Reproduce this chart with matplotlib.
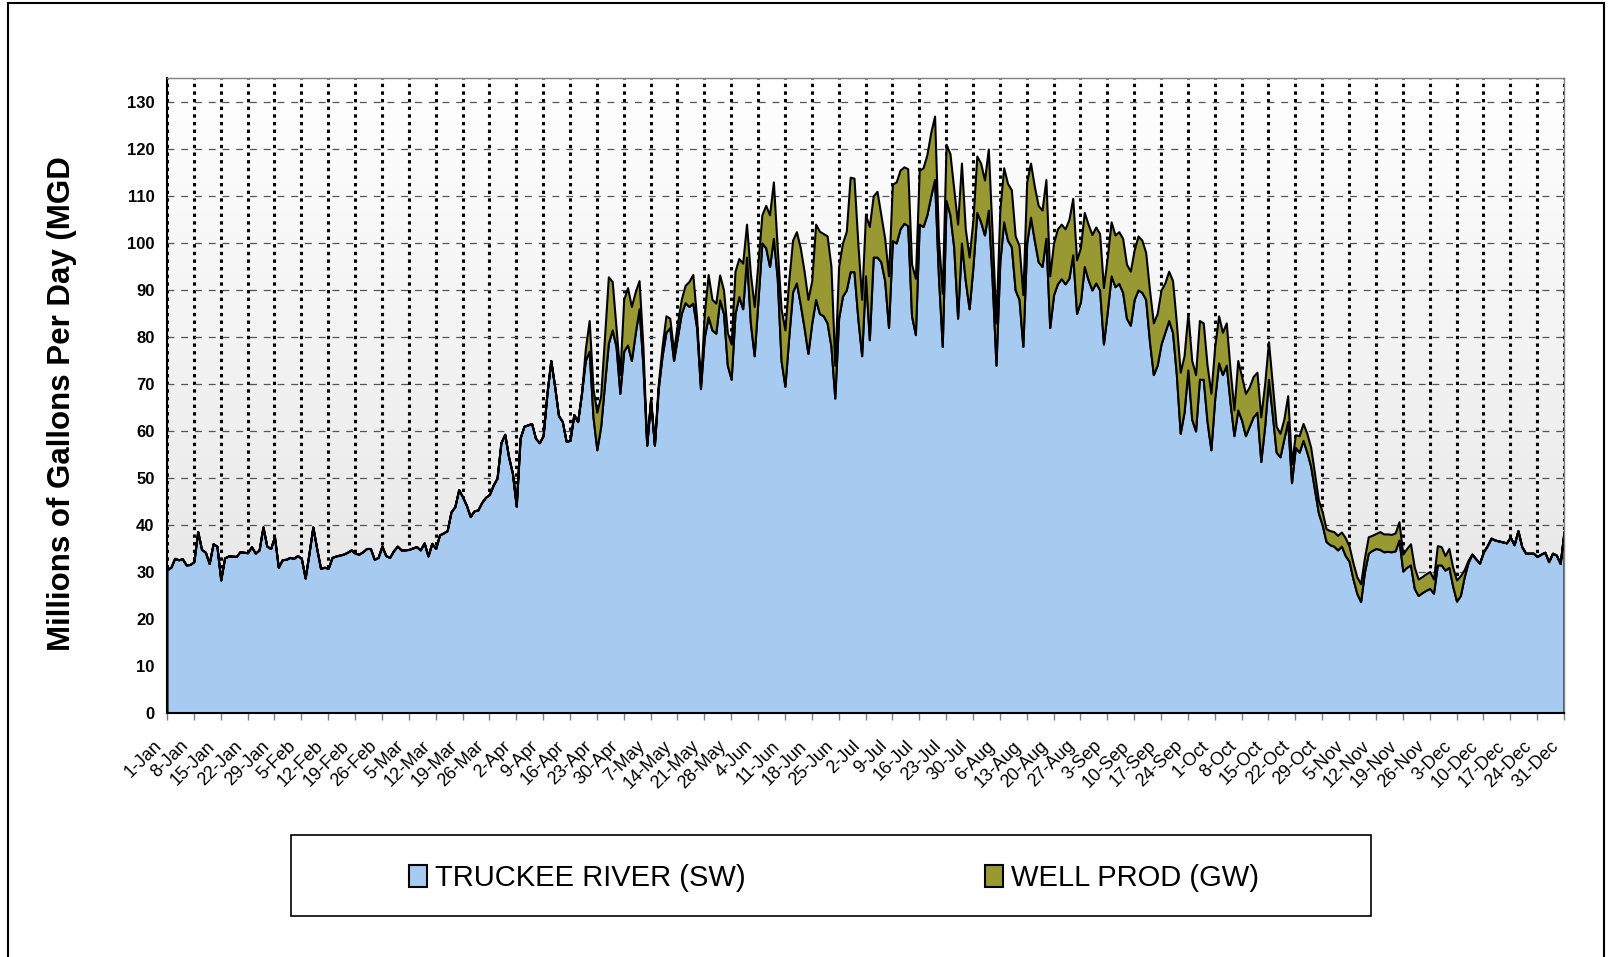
import matplotlib.pyplot as plt
import matplotlib.transforms as mtransforms
import numpy as np
from matplotlib.colors import LinearSegmentedColormap
from matplotlib.patches import Rectangle

plt.rcParams['font.family'] = ['Liberation Sans', 'DejaVu Sans']

# Daily Truckee River (surface water) production, MGD
sw_jan = [30.5, 31, 32.9, 32.6, 32.8, 31.5, 31.6, 32.2, 38.6, 34.8,
          34.2, 31.8, 36, 35.5, 28.3, 33, 33.4, 33.4, 33.3, 34.3,
          34.2, 34.1, 35.4, 34, 34.7, 39.6, 35.5, 35, 37.5, 31, 32.6]
sw_feb = [32.7, 33.1, 32.9, 33.5, 32.9, 28.7, 34, 39.6, 35, 30.8,
          31, 30.8, 33.1, 33.4, 33.6, 33.8, 34.2, 34.7, 34, 33.8,
          34.3, 35, 35, 32.7, 33.1, 35.5, 33.5, 33.1]
sw_mar = [34.5, 35.5, 34.7, 34.7, 34.8, 35.1, 35.4, 34.7, 36.2, 33.4,
          36.1, 35, 37.9, 38.3, 38.8, 42.8, 43.9, 47.5, 46, 44.2,
          41.8, 43, 43.2, 44.8, 45.9, 46.5, 48.5, 50, 57.5, 59.3, 54.5]
sw_apr = [51, 44, 58.5, 61, 61.3, 61.6, 58.5, 57.5, 59, 68,
          75, 69.5, 63.3, 62, 57.8, 58, 63.5, 62, 68, 75,
          77, 63, 56, 61, 70, 78.7, 81.5, 78, 68, 77]
sw_may = [78.3, 75, 80.8, 86, 74, 57, 66.5, 57, 69, 76,
          81, 82, 75, 80, 85, 87.3, 86.5, 87.2, 82, 69,
          80, 84.3, 81.5, 80.8, 87.9, 85, 74, 71, 85, 88.6, 86]
sw_jun = [97, 83, 76, 88, 100, 99, 95, 101, 92.5, 75,
          69.5, 80, 89.6, 91.5, 87, 82, 76.5, 83, 88, 85,
          84.5, 83, 78, 67, 84, 88.7, 90, 93.9, 93.9, 84]
sw_jul = [76, 93, 79.4, 97, 97, 96, 92, 82, 100.5, 100,
          103, 104.2, 103.7, 84.5, 80.5, 104, 103.5, 106, 110, 113.5,
          93, 78, 109, 106, 99, 84, 100, 92, 86, 95, 106.5]
sw_aug = [104.5, 101.7, 107, 92, 74, 96, 104.5, 100.6, 99.2, 90,
          88, 78, 100, 105.5, 100.5, 96, 95, 101, 82, 89,
          91.3, 92.4, 91.3, 92.5, 97.5, 85, 87.5, 95, 92.2, 90, 91.5]
sw_sep = [90, 78.5, 85.5, 93, 90.7, 91.4, 89.5, 84, 82.5, 88,
          90, 89.5, 88, 79, 72, 74, 78.5, 81, 83.5, 81,
          72, 59.5, 64, 73, 62.5, 60, 71, 71, 62, 56]
sw_oct = [67, 74.5, 72, 74, 66, 59, 64.5, 62.3, 59, 61,
          63, 64, 53.5, 61, 71, 63.5, 55.5, 54.5, 58.3, 62,
          49, 56.5, 55.5, 58, 55.5, 52.5, 47.5, 42.6, 40, 36.5, 35.8]
sw_nov = [35.5, 34.7, 35.5, 33.5, 32.3, 28.6, 25.5, 23.7, 30, 34,
          34.6, 35, 34.8, 34.3, 34.4, 34.3, 34.5, 36.8, 30.2, 31,
          31.5, 26.5, 25, 25.6, 26.1, 26.5, 25.5, 31.5, 31.5, 30.4]
sw_dec = [31, 27, 23.8, 25, 29, 32, 33.8, 32.8, 31.9, 34.3,
          35.6, 37.2, 36.8, 36.6, 36.4, 36.2, 37.4, 35.8, 38.8, 35.4,
          34, 34, 34, 33.3, 33.8, 34.2, 32.2, 34, 33.6, 31.8, 38.6]

# Daily well production (ground water), MGD
gw_jan = [0] * 31
gw_feb = [0] * 28
gw_mar = [0] * 31
gw_apr = [0] * 19 + [2.5, 6.5, 6, 8, 6.5, 10, 14.1, 10.3, 4, 4, 11]
gw_may = [12.2, 11.5, 8.8, 6, 4, 0, 0.5, 0, 1, 2,
          3.5, 2, 2, 3, 3, 3.7, 5.3, 6.1, 2, 1,
          5, 9, 6.5, 6.4, 5.3, 5, 7, 7.5, 9, 8.1, 9.7]
gw_jun = [7, 10.5, 10.5, 8, 6, 9, 11, 12, 6.5, 11,
          12, 12, 11, 10.9, 12, 12, 11.5, 9, 16, 17.5,
          17.5, 18.5, 17, 7, 11, 11.3, 12.5, 20.1, 19.9, 16]
gw_jul = [12, 13, 24.1, 13, 14, 10, 9, 11, 12, 13,
          12.5, 12, 12.1, 11, 12, 11.5, 12.5, 12.8, 13.5, 13.5,
          8, 11.3, 12, 13, 12.5, 20, 17, 11, 11, 10, 12]
gw_aug = [12.5, 11.7, 13, 10, 9, 11, 11.5, 12.1, 12.1, 11.5,
          11.5, 11, 13, 11.5, 11.5, 12, 12, 12.5, 11, 11,
          11.7, 11.6, 11.7, 12.5, 12, 11.4, 11.5, 11.5, 11.8, 11.8, 11.9]
gw_sep = [12, 12, 11.5, 11.5, 11, 11, 11.5, 11.5, 11.5, 10.5,
          11.5, 11.1, 10, 11, 11, 11, 11.5, 10.5, 10.5, 11,
          11, 13, 12, 12, 12.5, 12, 12.5, 12, 12, 12]
gw_oct = [11, 10, 9, 9, 7, 5.5, 10.5, 9.3, 9, 8.4,
          8.6, 8.5, 9.5, 9, 8, 6.5, 5.5, 5, 4.2, 5.5,
          4, 2.7, 3.5, 3.6, 4, 4, 3.5, 2.7, 2.8, 2.7, 3]
gw_nov = [3.1, 3.1, 3, 3.8, 3.2, 3.4, 3.5, 3.8, 3, 3.5,
          3.2, 3.2, 3.8, 3.8, 3.7, 3.7, 3.8, 3.9, 3.6, 4,
          4.5, 4.5, 3.5, 3.4, 3.5, 3.6, 3, 4.1, 3.9, 3.1]
gw_dec = [4, 4, 4.5, 4.2, 1.5, 0.5] + [0] * 25

week_labels = ['1-Jan', '8-Jan', '15-Jan', '22-Jan', '29-Jan', '5-Feb', '12-Feb',
               '19-Feb', '26-Feb', '5-Mar', '12-Mar', '19-Mar', '26-Mar', '2-Apr',
               '9-Apr', '16-Apr', '23-Apr', '30-Apr', '7-May', '14-May', '21-May',
               '28-May', '4-Jun', '11-Jun', '18-Jun', '25-Jun', '2-Jul', '9-Jul',
               '16-Jul', '23-Jul', '30-Jul', '6-Aug', '13-Aug', '20-Aug', '27-Aug',
               '3-Sep', '10-Sep', '17-Sep', '24-Sep', '1-Oct', '8-Oct', '15-Oct',
               '22-Oct', '29-Oct', '5-Nov', '12-Nov', '19-Nov', '26-Nov', '3-Dec',
               '10-Dec', '17-Dec', '24-Dec', '31-Dec']
y_ticks = list(range(0, 131, 10))
series_names = ['TRUCKEE RIVER (SW)', 'WELL PROD (GW)']

sw = np.array(sw_jan + sw_feb + sw_mar + sw_apr + sw_may + sw_jun +
              sw_jul + sw_aug + sw_sep + sw_oct + sw_nov + sw_dec)
gw = np.array(gw_jan + gw_feb + gw_mar + gw_apr + gw_may + gw_jun +
              gw_jul + gw_aug + gw_sep + gw_oct + gw_nov + gw_dec)
days = np.arange(len(sw))
week_days = np.arange(0, len(sw), 7)

W, H = 1610, 957
fig = plt.figure(figsize=(W / 100, H / 100), dpi=100)
ax = fig.add_axes([167 / W, 1 - 713 / H, (1564 - 167) / W, (713 - 78) / H])

# grey-to-white background of the plot area
bg = LinearSegmentedColormap.from_list('bg', ['#e2e2e2', '#ffffff'])
ax.imshow(np.linspace(0, 1, 256).reshape(-1, 1), cmap=bg, origin='lower',
          extent=[0, 1, 0, 1], transform=ax.transAxes, aspect='auto', zorder=0)

polys = ax.stackplot(days, sw, gw, colors=['#a6caf0', '#999933'],
                     edgecolor='black', linewidth=1.5, zorder=2)

ax.set_xlim(0, days[-1])
ax.set_ylim(0, 135.1)
ax.set_axisbelow(True)
ax.set_xticks(week_days)
ax.set_yticks(y_ticks)
ax.xaxis.grid(True, color='black', linewidth=2.2, linestyle=(0, (1.1, 1.4)))
ax.yaxis.grid(True, color='#555555', linewidth=0.9, linestyle=(0, (5.5, 5.5)))

for side in ['top', 'right']:
    ax.spines[side].set_color('#808080')
    ax.spines[side].set_linewidth(1)
for side in ['left', 'bottom']:
    ax.spines[side].set_color('black')
    ax.spines[side].set_linewidth(1.5)

ax.set_yticklabels([str(v) for v in y_ticks], fontweight='bold', fontsize=12)
ax.tick_params(axis='y', length=0, pad=9)
ax.set_xticklabels(week_labels, rotation=45, ha='right', va='center',
                   rotation_mode='anchor', fontsize=13)
ax.tick_params(axis='x', length=5, width=1, color='#808080', pad=17)
shift = mtransforms.ScaledTranslation(-8 / 100, 0, fig.dpi_scale_trans)
for lbl in ax.get_xticklabels():
    lbl.set_transform(lbl.get_transform() + shift)

fig.text(62 / W, 1 - 404 / H, 'Millions of Gallons Per Day (MGD', rotation=90,
         fontsize=22.5, fontweight='bold', ha='center', va='center')

# legend box below the chart
fig.add_artist(Rectangle((291 / W, 1 - 916 / H), 1080 / W, 81 / H,
                         transform=fig.transFigure, fill=False,
                         edgecolor='black', linewidth=1.2))
fig.legend(polys, series_names, loc='center left',
           bbox_to_anchor=(409 / W, 1 - 878 / H), ncol=2, frameon=False,
           prop={'family': ['Liberation Sans Narrow', 'Liberation Sans'], 'size': 21},
           handlelength=0.62, handleheight=0.79, handletextpad=0.27,
           columnspacing=8.2, borderpad=0, borderaxespad=0)

# outer frame of the whole picture
fig.add_artist(Rectangle((8 / W, -0.02), 1596 / W, 1.02 - 3 / H,
                         transform=fig.transFigure, fill=False,
                         edgecolor='black', linewidth=1.5, clip_on=False))

fig.savefig('out.png', dpi=100)
